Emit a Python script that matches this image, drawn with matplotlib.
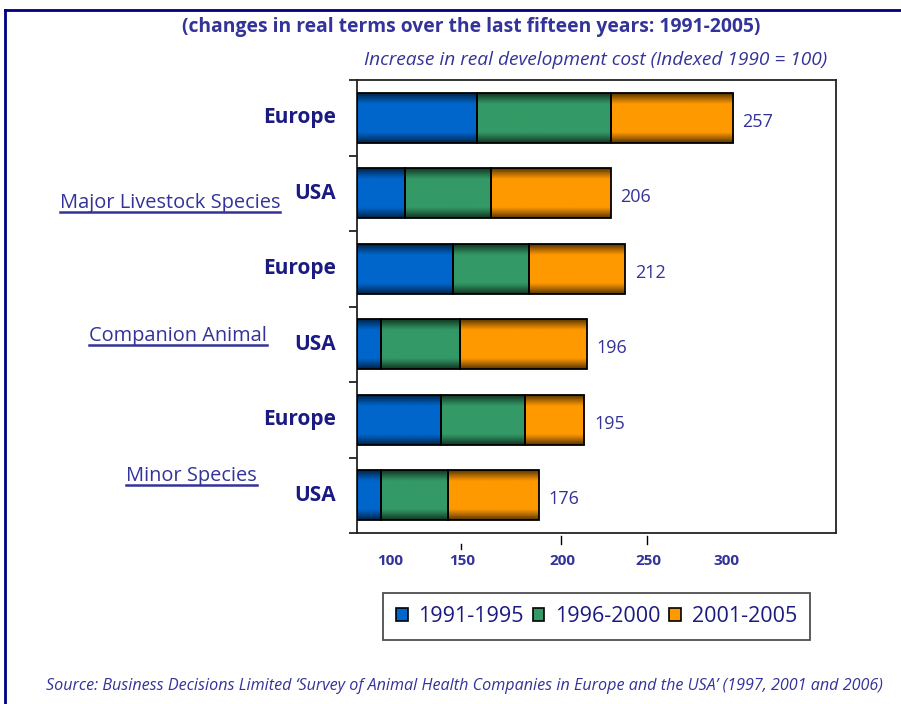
import numpy as np
import matplotlib
matplotlib.use("Agg")
import matplotlib.pyplot as plt
import matplotlib.patches as patch
from matplotlib.lines import Line2D
from matplotlib.colors import to_rgb

# bars from top to bottom
regions = ["Europe", "USA", "Europe", "USA", "Europe", "USA"]
groups = ["Major Livestock Species", "Companion Animal", "Minor Species"]
periods = ["1991-1995", "1996-2000", "2001-2005"]

# index increase in each period, stacked from the 1990 base of 100
base = 100
inc_91_95 = [50, 20, 40, 10, 35, 10]
inc_96_00 = [56, 36, 32, 33, 35, 28]
inc_01_05 = [51, 50, 40, 53, 25, 38]
totals = [257, 206, 212, 196, 195, 176]

tick_labels = ["100", "150", "200", "250", "300"]

colors = ["#0066cc", "#339966", "#ff9900"]
navy = "#1a1a80"
slate = "#333399"

plt.rcParams['font.family'] = ['Open Sans', 'DejaVu Sans']

W, H = 901, 704
fig = plt.figure(figsize=(W / 100, H / 100), dpi=100)
ax = fig.add_axes([357 / W, 1 - 533 / H, 478.7 / W, 453 / H])

y = np.arange(len(regions))
left = np.full(len(regions), base, dtype=float)
bar_h = 0.66


def shade(c, n=64):
    # dark at the top and bottom edge, bright through the middle
    t = np.linspace(0, 1, n)
    k = 0.35 + 0.65 * np.clip(np.sin(np.pi * t) * 1.6, 0, 1)
    rgb = np.array(to_rgb(c))
    return (k[:, None] * rgb[None, :])[:, None, :]


for vals, c in zip([inc_91_95, inc_96_00, inc_01_05], colors):
    bars = ax.barh(y, vals, left=left, height=bar_h, color="none",
                   edgecolor="black", linewidth=1.3, zorder=3)
    for b in bars:
        x0, y0 = b.get_x(), b.get_y()
        im = ax.imshow(shade(c), extent=[x0, x0 + b.get_width(), y0 + b.get_height(), y0],
                       aspect="auto", interpolation="bilinear", zorder=2)
        im.set_clip_path(b)
    left += np.array(vals)

ax.set_xlim(100, 300)
ax.set_ylim(len(regions) - 0.5, -0.5)

# value at the end of each bar
for i, t in enumerate(totals):
    ax.annotate(str(t), (left[i], y[i]), xytext=(7, -3), textcoords="offset points",
                ha="left", va="center", fontsize=13, color=slate)

# region names beside each bar
for i, r in enumerate(regions):
    ax.annotate(r, (0, y[i]), xycoords=("axes fraction", "data"), xytext=(-15, 0),
                textcoords="offset points", ha="right", va="center",
                fontsize=15, fontweight="bold", color=navy)

# ticks between the bars
ax.set_yticks(np.arange(-0.5, len(regions), 1.0))
ax.set_yticklabels([])
ax.tick_params(axis="y", length=6, width=1.3, color="#222222")

# x labels sit where the original axis put them
ax.set_xticks([114, 144, 186, 221.6, 254.4])
ax.set_xticklabels(tick_labels, fontsize=11, fontweight="bold", color=slate)
ax.tick_params(axis="x", length=0, pad=15)
for xv, y0, y1 in [(143.6, -0.025, -0.035), (185.2, -0.007, -0.025), (221.3, -0.007, -0.025)]:
    ax.add_line(Line2D([xv, xv], [y0, y1], transform=ax.get_xaxis_transform(),
                       color="black", linewidth=1, clip_on=False))

for s in ax.spines.values():
    s.set_linewidth(1.3)
    s.set_color("#222222")

# legend
handles = [patch.Patch(facecolor=c, edgecolor="black", linewidth=1.2, label=p)
           for c, p in zip(colors, periods)]
leg = fig.legend(handles=handles, loc="center", bbox_to_anchor=(596.5 / W, 1 - 616.5 / H),
                 ncol=3, fontsize=15.5, frameon=True, fancybox=False,
                 handlelength=0.55, handleheight=0.55, handletextpad=0.5,
                 columnspacing=0.4, borderpad=0.6, borderaxespad=0, labelcolor=navy)
leg.get_frame().set_edgecolor("#222222")
leg.get_frame().set_linewidth(1.3)

# headings and source
fig.text(471 / W, 1 - 27 / H, "(changes in real terms over the last fifteen years: 1991-2005)",
         ha="center", va="center", fontsize=13.9, fontweight="bold", color=slate)
fig.text(596 / W, 1 - 60 / H, "Increase in real development cost (Indexed 1990 = 100)",
         ha="center", va="center", fontsize=13.8, style="italic", color=slate)
fig.text(46 / W, 1 - 686 / H,
         "Source: Business Decisions Limited \u2018Survey of Animal Health Companies in Europe and the USA\u2019 (1997, 2001 and 2006)",
         ha="left", va="center", fontsize=11.6, style="italic", color=slate)

# underlined group names
group_txt = []
for g, (gx, gy) in zip(groups, [(280, 208), (267, 341), (257, 481)]):
    group_txt.append(fig.text(gx / W, 1 - gy / H, g, ha="right", va="baseline",
                              fontsize=14.4, color=slate))
fig.canvas.draw()
for t in group_txt:
    bb = t.get_window_extent()
    yy = (bb.y0 + 1) / H
    fig.add_artist(Line2D([bb.x0 / W, bb.x1 / W], [yy, yy], color=slate, linewidth=1.8))

# page border
fig.add_artist(Line2D([5 / W, 1], [1 - 10 / H, 1 - 10 / H], color="#000080", linewidth=2))
fig.add_artist(Line2D([5 / W, 5 / W], [0, 1 - 10 / H], color="#000080", linewidth=2))

fig.savefig("out.png", dpi=100)
